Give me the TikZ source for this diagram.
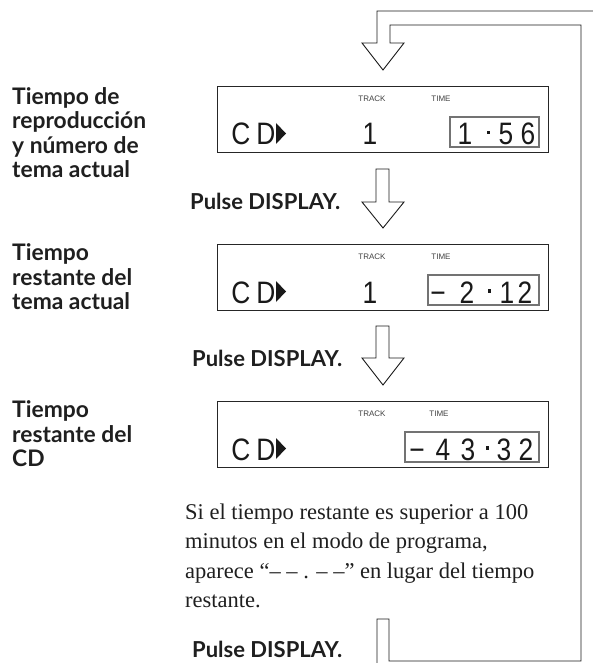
\documentclass[tikz,border=0pt]{standalone}
\usepackage{fontspec}
\setmainfont{Liberation Serif}
\newfontfamily\lab{Lato}
\newfontfamily\lcd{Liberation Sans}[FakeStretch=0.85]
\newfontfamily\lcdlab{Liberation Sans}
\tikzset{
  lbl/.style={anchor=base west, inner sep=0pt, font=\lab\bfseries\fontsize{22.8}{24}\selectfont, text=black!88},
  pls/.style={anchor=base west, inner sep=0pt, font=\lab\bfseries\fontsize{22}{24}\selectfont, text=black!88},
  para/.style={anchor=base west, inner sep=0pt, font=\fontsize{22.5}{29}\selectfont, text=black!88},
  disp/.style={draw=black!85, line width=1.4pt, inner sep=0pt, minimum width=331pt, minimum height=66pt, anchor=north west},
  tbox/.style={draw=black!55, line width=2.2pt},
  capt/.style={font=\lcdlab\fontsize{8}{9}\selectfont, inner sep=0pt, text=black!75},
  dig/.style={anchor=base, inner sep=0pt, font=\lcd\fontsize{31}{31}\selectfont, text=black!90},
  hol/.style={draw=black!90, line width=0.9pt, line join=miter},
}
\begin{document}
\begin{tikzpicture}[x=1pt,y=-1pt]
\useasboundingbox (0,0) rectangle (592,663);

% loop arrow
\draw[hol] (600,11) -- (377,11) -- (377,43) -- (362,43) -- (383,70) -- (404,43) -- (390,43) -- (390,25) -- (581,25) -- (581,661) -- (389,661) -- (389,619) -- (377,619) -- (377,670);

% down arrows
\draw[hol] (376,169) -- (376,202) -- (362,202) -- (383,228) -- (404,202) -- (389,202) -- (389,169) -- cycle;
\draw[hol] (376,326) -- (376,358) -- (362,358) -- (383,385) -- (404,358) -- (389,358) -- (389,326) -- cycle;

% left labels
\node[lbl] (a1) at (12,104.5) {Tiempo de};
\node[lbl] (a2) at (12,129) {reproducción};
\node[lbl] (a3) at (12,153.5) {y número de};
\node[lbl] (a4) at (12,178) {tema actual};
\node[pls] (p1) at (190,209) {Pulse DISPLAY.};
\node[lbl] (b1) at (12,260.5) {Tiempo};
\node[lbl] (b2) at (12,285) {restante del};
\node[lbl] (b3) at (12,309.5) {tema actual};
\node[pls] (p2) at (192,366) {Pulse DISPLAY.};
\node[lbl] (c1) at (12,417.5) {Tiempo};
\node[lbl] (c2) at (12,442) {restante del};
\node[lbl] (c3) at (12,466.5) {CD};
\node[pls] (p3) at (192,657.5) {Pulse DISPLAY.};

% paragraph
\node[para] (s1) at (185,519) {Si el tiempo restante es superior a 100};
\node[para] (s2) at (185,548.5) {minutos en el modo de programa,};
\node[para] (s3) at (185,578) {aparece “– – . – –” en lugar del tiempo};
\node[para] (s4) at (185,607.5) {restante.};

% display 1
\node[disp] (d1) at (217,86) {};
\node[capt] (d1tr) at (372,99) {TRACK};
\node[capt] (d1ti) at (441,99) {TIME};
\node[dig] (d1c) at (241,145) {C};
\node[dig] (d1d) at (266,145) {D};
\fill[black!90] (276,123) -- (286,133.5) -- (276,144) -- cycle;
\node[dig] (d1n) at (370,145) {1};
\draw[tbox] (450,117) rectangle (539,147);
\node[dig] (d1t1) at (465,145) {1};
\fill[black!90] (486.5,131) rectangle (490,134.5);
\node[dig] (d1t3) at (506,145) {5};
\node[dig] (d1t4) at (528,145) {6};

% display 2
\node[disp] (d2) at (217,244) {};
\node[capt] (d2tr) at (372,257) {TRACK};
\node[capt] (d2ti) at (441,257) {TIME};
\node[dig] (d2c) at (241,303) {C};
\node[dig] (d2d) at (266,303) {D};
\fill[black!90] (276,281) -- (286,291.5) -- (276,302) -- cycle;
\node[dig] (d2n) at (370,303) {1};
\draw[tbox] (428,275) rectangle (539,305);
\node[dig] (d2t0) at (438,303) {−};
\node[dig] (d2t1) at (467,303) {2};
\fill[black!90] (487.5,289) rectangle (491,292.5);
\node[dig] (d2t3) at (507,303) {1};
\node[dig] (d2t4) at (525,303) {2};

% display 3
\node[disp] (d3) at (217,401) {};
\node[capt] (d3tr) at (372,414) {TRACK};
\node[capt] (d3ti) at (439,414) {TIME};
\node[dig] (d3c) at (241,460) {C};
\node[dig] (d3d) at (266,460) {D};
\fill[black!90] (276,438) -- (286,448.5) -- (276,459) -- cycle;
\draw[tbox] (405,432) rectangle (539,462);
\node[dig] (d3t0) at (417,460) {−};
\node[dig] (d3t1) at (443,460) {4};
\node[dig] (d3t2) at (468,460) {3};
\fill[black!90] (485.5,446) rectangle (489,449.5);
\node[dig] (d3t3) at (504,460) {3};
\node[dig] (d3t4) at (526,460) {2};
\end{tikzpicture}
\end{document}
